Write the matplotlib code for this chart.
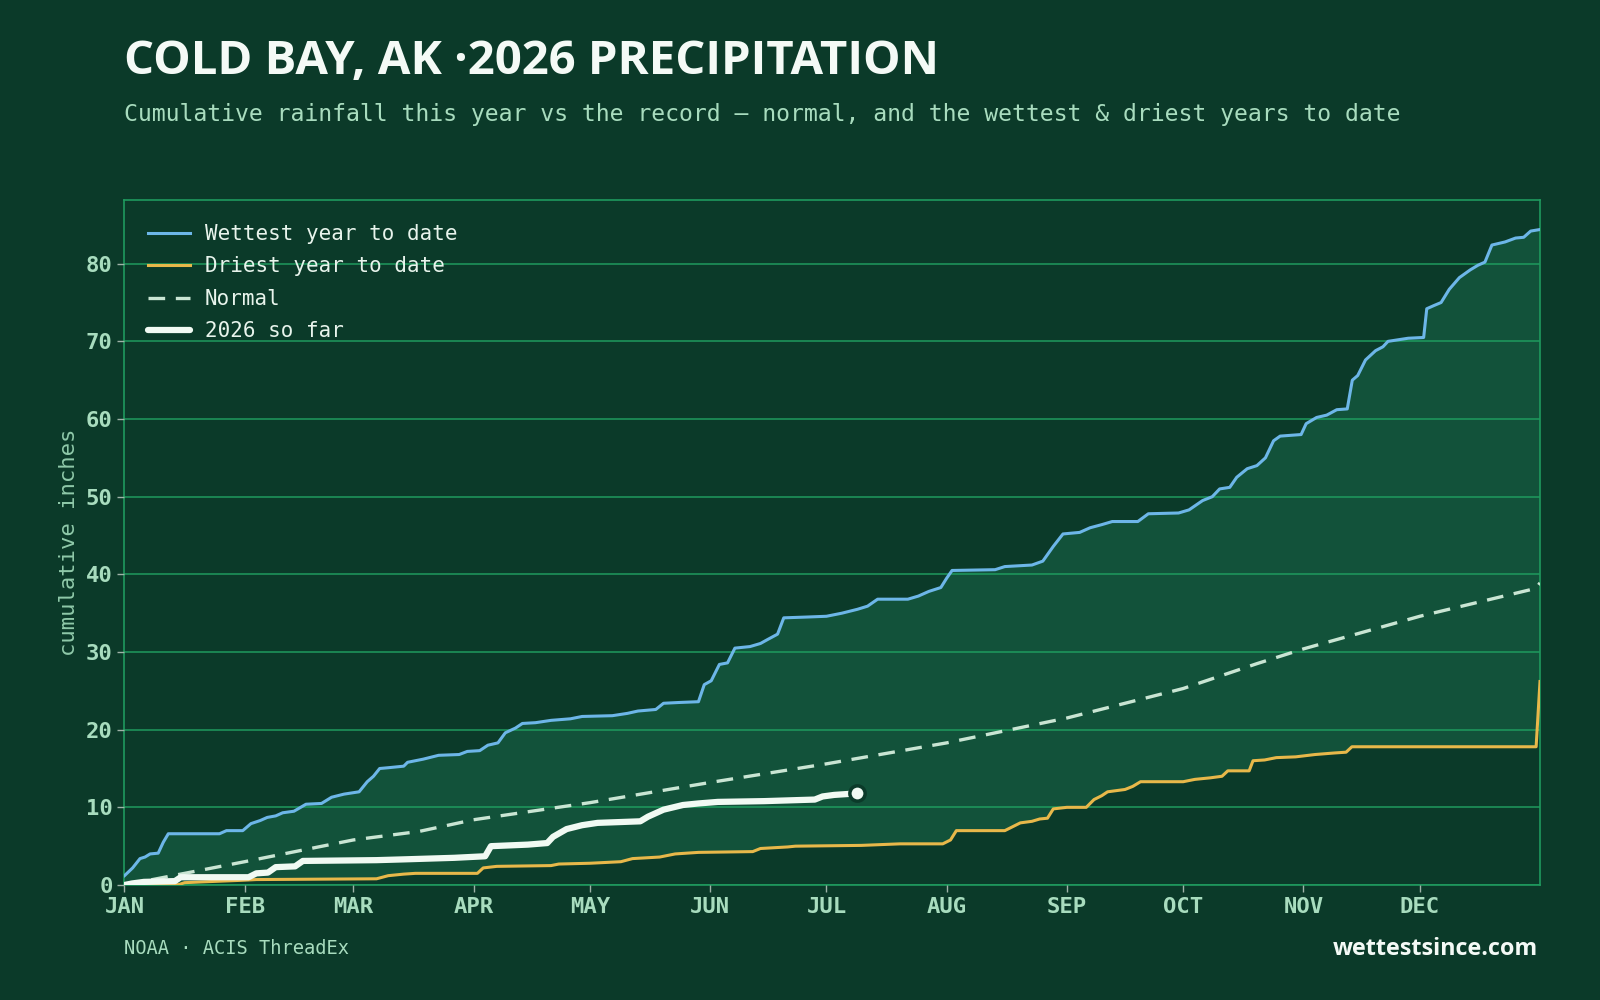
import numpy as np
import matplotlib.pyplot as plt

# ---- data (day of year, cumulative inches) ----
MONTHS = ["JAN", "FEB", "MAR", "APR", "MAY", "JUN", "JUL", "AUG", "SEP", "OCT", "NOV", "DEC"]
MONTH_START = [0, 31, 59, 90, 120, 151, 181, 212, 243, 273, 304, 334]

wet_day = [0, 2.1, 4, 5.3, 6.6, 8.7, 10, 11.3, 24.5, 26.3, 30.5, 32.6, 35, 36.8, 39, 40.8, 43.7,
           46.8, 50.8, 53.4, 56.6, 60.5, 62.6, 64.2, 65.8, 68, 72, 73, 77, 81, 86.3, 88.4, 91.6,
           93.7, 96.3, 98.2, 100.8, 102.6, 106, 110, 115, 118, 125.8, 129.7, 132.4, 137, 139, 143,
           148, 149.5, 151.3, 153.4, 155.5, 157.4, 161.3, 164, 165.8, 168.4, 170, 175.8, 181, 185,
           189, 191.6, 194.2, 202, 204.7, 207.4, 210.5, 212, 213.4, 224.5, 227, 234, 236.8, 239.5,
           242, 246.3, 249, 252, 254.7, 261.3, 264, 271.8, 274.5, 278, 280.5, 282.4, 285, 286.8,
           289.5, 292, 294.2, 296.3, 298, 303.4, 304.7, 307.4, 310, 312.6, 315.3, 316.6, 318, 320,
           322.6, 324.5, 325.8, 331, 335, 335.8, 337.6, 339.5, 341.6, 344.2, 347, 349, 350.8,
           352.6, 356, 358.7, 360.8, 362.6, 365]
wet_val = [1.2, 2.2, 3.4, 3.6, 4.0, 4.1, 5.5, 6.6, 6.6, 7.0, 7.0, 7.9, 8.3, 8.7, 8.9, 9.3, 9.5,
           10.4, 10.5, 11.3, 11.7, 12.0, 13.3, 14.0, 15.0, 15.1, 15.3, 15.8, 16.2, 16.7, 16.8, 17.2,
           17.3, 18.0, 18.3, 19.6, 20.2, 20.8, 20.9, 21.2, 21.4, 21.7, 21.8, 22.1, 22.4, 22.6, 23.4,
           23.5, 23.6, 25.8, 26.3, 28.4, 28.6, 30.5, 30.7, 31.1, 31.6, 32.3, 34.4, 34.5, 34.6, 35.0,
           35.5, 35.9, 36.8, 36.8, 37.2, 37.8, 38.3, 39.5, 40.5, 40.6, 41.0, 41.2, 41.7, 43.6, 45.2,
           45.4, 46.0, 46.4, 46.8, 46.8, 47.8, 47.9, 48.3, 49.5, 50.0, 51.0, 51.2, 52.5, 53.6, 54.0,
           55.0, 57.2, 57.8, 58.0, 59.4, 60.2, 60.5, 61.2, 61.3, 65.0, 65.6, 67.6, 68.8, 69.3, 70.0,
           70.4, 70.5, 74.2, 74.6, 75.0, 76.7, 78.2, 79.2, 79.8, 80.2, 82.4, 82.8, 83.3, 83.4, 84.2,
           84.4]

dry_day = [0, 14, 15.5, 20, 25, 30, 34, 65, 68, 72, 75, 91, 92.5, 96, 110, 112, 120, 128, 131,
           138, 142, 148, 162, 164, 171, 173, 190, 200, 211, 213, 214.5, 227, 229, 231, 234, 236,
           238, 239.5, 243, 248, 250, 252, 253.5, 258, 260, 262, 273, 276, 280, 283, 284.5, 290,
           291, 294, 297, 302, 307, 312, 315, 316.5, 364, 365]
dry_val = [0, 0.05, 0.3, 0.4, 0.5, 0.6, 0.7, 0.8, 1.2, 1.4, 1.5, 1.5, 2.2, 2.4, 2.5, 2.7, 2.8,
           3.0, 3.4, 3.6, 4.0, 4.2, 4.3, 4.7, 4.9, 5.0, 5.1, 5.3, 5.3, 5.8, 7.0, 7.0, 7.5, 8.0,
           8.2, 8.5, 8.6, 9.8, 10.0, 10.0, 11.0, 11.5, 12.0, 12.3, 12.7, 13.3, 13.3, 13.6, 13.8,
           14.0, 14.7, 14.7, 16.0, 16.1, 16.4, 16.5, 16.8, 17.0, 17.1, 17.8, 17.8, 26.2]

norm_day = [0, 31, 59, 76, 90, 120, 151, 181, 212, 243, 273, 292, 304, 334, 364, 365]
norm_val = [0, 3.0, 5.8, 6.9, 8.4, 10.6, 13.2, 15.6, 18.3, 21.5, 25.3, 28.5, 30.4, 34.6, 38.2, 38.9]

cur_day = [0, 2, 5, 13, 14.5, 32, 34, 37, 39, 44, 46, 65, 72, 85, 93, 94.5, 104, 109, 110.5,
           114, 118, 122, 133, 135, 139, 144, 148, 153, 165, 178, 180, 183, 189]
cur_val = [0, 0.2, 0.4, 0.5, 1.0, 1.0, 1.5, 1.6, 2.3, 2.4, 3.1, 3.2, 3.3, 3.5, 3.7, 5.0, 5.2,
           5.4, 6.2, 7.2, 7.7, 8.0, 8.2, 8.8, 9.7, 10.3, 10.5, 10.7, 10.8, 11.0, 11.4, 11.6, 11.8]

BG = "#0b3a29"
FILL = "#12523a"
GRID = "#1f9a5e"
TICK = "#a8dcbe"

plt.rcParams["font.family"] = ["DejaVu Sans Mono"]

fig = plt.figure(figsize=(16, 10), dpi=100, facecolor=BG)
ax = fig.add_axes([0.0778, 0.115, 0.8847, 0.685])
ax.set_facecolor(BG)

# band between wettest and driest
ax.fill(np.concatenate([wet_day, dry_day[::-1]]), np.concatenate([wet_val, dry_val[::-1]]),
        color=FILL, lw=0, zorder=1)

ax.plot(wet_day, wet_val, color="#6db6e8", lw=2.2, label="Wettest year to date", zorder=3)
ax.plot(dry_day, dry_val, color="#e8b84a", lw=2.2, label="Driest year to date", zorder=3)
ax.plot(norm_day, norm_val, color="#c9e5d3", lw=2.4, dashes=(5, 3.2), label="Normal", zorder=3)
ax.plot(cur_day, cur_val, color="#f1faf3", lw=4.5, solid_capstyle="round",
        label="2026 so far", zorder=4)
ax.plot(cur_day[-1], cur_val[-1], "o", ms=11, mfc="#f1faf3", mec=BG, mew=2.5, zorder=5)

ax.set_xlim(0, 365)
ax.set_ylim(0, 88.2)
ax.set_xticks(MONTH_START)
ax.set_xticklabels(MONTHS)
ax.set_yticks(range(0, 90, 10))
ax.yaxis.grid(True, color=GRID, lw=1.1, zorder=2)
ax.set_axisbelow(False)
for s in ax.spines.values():
    s.set_color(GRID)
    s.set_linewidth(1.2)
ax.tick_params(axis="both", colors="#9fb2a8", labelcolor=TICK, labelsize=16, length=5, width=1)
for lab in ax.get_xticklabels() + ax.get_yticklabels():
    lab.set_fontweight("bold")
ax.set_ylabel("cumulative inches", color="#8fc9a9", fontsize=16, labelpad=5)

leg = ax.legend(loc="upper left", frameon=False, fontsize=15, labelcolor="#e8f4ec",
                handlelength=2.0, borderaxespad=0.75, labelspacing=0.6, handletextpad=0.7)

fig.text(0.0778, 0.938, "COLD BAY, AK \u00b72026 PRECIPITATION", color="#f4faf6",
         fontsize=34, fontweight="bold", family="Open Sans", va="center")
fig.text(0.0778, 0.885, "Cumulative rainfall this year vs the record \u2014 normal, and the wettest & driest years to date",
         color=TICK, fontsize=16.65, va="center")
fig.text(0.0778, 0.052, "NOAA \u00b7 ACIS ThreadEx", color=TICK, fontsize=13.5, va="center")
fig.text(0.9615, 0.051, "wettestsince.com", color="#f4faf6", fontsize=16.8, fontweight="bold",
         family="Open Sans", ha="right", va="center")

fig.savefig("out.png", dpi=100, facecolor=BG)
